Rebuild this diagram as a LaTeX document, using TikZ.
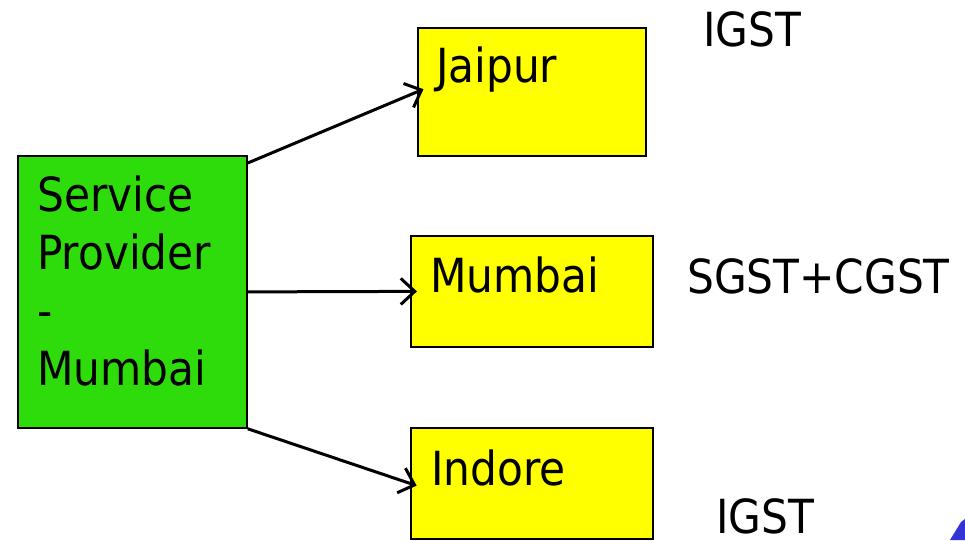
\documentclass[tikz,border=0pt]{standalone}
\usepackage{fontspec}
\setmainfont{DejaVu Sans Condensed}
\usetikzlibrary{arrows.meta}
\definecolor{boxgreen}{RGB}{46,220,12}
\definecolor{boxyellow}{RGB}{255,255,0}
\definecolor{accentblue}{RGB}{51,51,214}
\begin{document}
\begin{tikzpicture}[x=1pt,y=-1pt,
  box/.style={draw=black,line width=1.8pt,inner sep=0pt,anchor=north west},
  lbl/.style={anchor=base west,inner sep=0pt,align=left,
    font=\fontsize{47}{57.7}\selectfont},
  link/.style={line width=3pt,shorten >=-7pt,
    -{Straight Barb[length=14pt,width=26pt,line width=3pt]}}]
  % canvas
  \fill[white] (0,0) rectangle (965,540);
  \useasboundingbox (0,0) rectangle (965,540);

  % provider box and destination boxes
  \node[box,fill=boxgreen,minimum width=229pt,minimum height=272pt] (sp) at (17,155) {};
  \node[box,fill=boxyellow,minimum width=228pt,minimum height=128pt] (jai) at (417,27) {};
  \node[box,fill=boxyellow,minimum width=242pt,minimum height=111pt] (mum) at (410,235) {};
  \node[box,fill=boxyellow,minimum width=242pt,minimum height=111pt] (ind) at (410,427) {};

  % box labels (multi-line label sits on the baseline of its last line)
  \node[lbl] (sptext) at (37,385) {Service\\Provider\\-\\Mumbai};
  \node[lbl] (jaitext) at (436,83) {Jaipur};
  \node[lbl] (mumtext) at (430,292) {Mumbai};
  \node[lbl] (indtext) at (431,485) {Indore};

  % tax labels
  \node[lbl] (taxjai) at (703,47) {IGST};
  \node[lbl] (taxmum) at (687,293) {SGST+CGST};
  \node[lbl] (taxind) at (716,533) {IGST};

  % supply links
  \draw[link] ([yshift=-8pt]sp.north east) -- (jai.west);
  \draw[link] (sp.east) -- (mum.west);
  \draw[link] (sp.south east) -- (ind.west);

  % corner accent
  \fill[accentblue] (950,540) -- (961,522) -- (965,519) -- (965,540) -- cycle;
\end{tikzpicture}
\end{document}
